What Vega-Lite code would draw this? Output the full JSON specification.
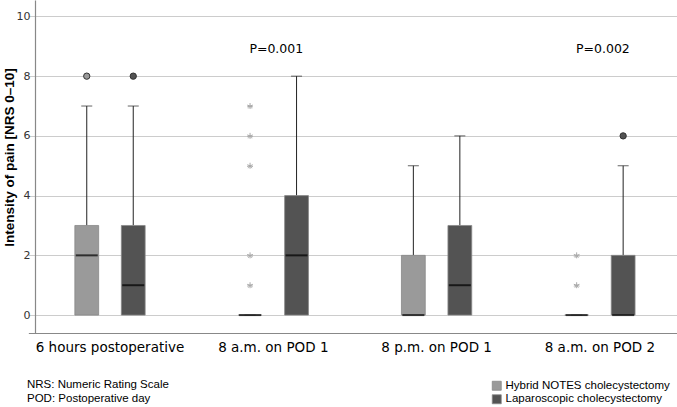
{
  "$schema": "https://vega.github.io/schema/vega-lite/v6.json",
  "width": 642,
  "height": 333,
  "autosize": {"type": "none"},
  "padding": {"left": 35, "top": 0, "right": 0, "bottom": 74},
  "config": {
    "view": {"stroke": null},
    "font": "DejaVu Sans"
  },
  "title": {
    "text": ["NRS: Numeric Rating Scale", "POD: Postoperative day"],
    "orient": "bottom",
    "anchor": "start",
    "frame": "group",
    "font": "Liberation Sans",
    "fontSize": 11.5,
    "fontWeight": "normal",
    "color": "#000000",
    "lineHeight": 14,
    "offset": -27,
    "dx": -8
  },
  "datasets": {
    "boxes": [
      {"group": "6 hours postoperative", "method": "Hybrid NOTES cholecystectomy", "q1": 0, "median": 2, "q3": 3, "upper": 7},
      {"group": "6 hours postoperative", "method": "Laparoscopic cholecystectomy", "q1": 0, "median": 1, "q3": 3, "upper": 7},
      {"group": "8 a.m. on POD 1", "method": "Hybrid NOTES cholecystectomy", "q1": 0, "median": 0, "q3": 0, "upper": 0},
      {"group": "8 a.m. on POD 1", "method": "Laparoscopic cholecystectomy", "q1": 0, "median": 2, "q3": 4, "upper": 8},
      {"group": "8 p.m. on  POD 1", "method": "Hybrid NOTES cholecystectomy", "q1": 0, "median": 0, "q3": 2, "upper": 5},
      {"group": "8 p.m. on  POD 1", "method": "Laparoscopic cholecystectomy", "q1": 0, "median": 1, "q3": 3, "upper": 6},
      {"group": "8 a.m. on POD 2", "method": "Hybrid NOTES cholecystectomy", "q1": 0, "median": 0, "q3": 0, "upper": 0},
      {"group": "8 a.m. on POD 2", "method": "Laparoscopic cholecystectomy", "q1": 0, "median": 0, "q3": 2, "upper": 5}
    ],
    "outliers": [
      {"group": "6 hours postoperative", "method": "Hybrid NOTES cholecystectomy", "value": 8},
      {"group": "6 hours postoperative", "method": "Laparoscopic cholecystectomy", "value": 8},
      {"group": "8 a.m. on POD 2", "method": "Laparoscopic cholecystectomy", "value": 6}
    ],
    "extremes": [
      {"group": "8 a.m. on POD 1", "method": "Hybrid NOTES cholecystectomy", "value": 1},
      {"group": "8 a.m. on POD 1", "method": "Hybrid NOTES cholecystectomy", "value": 2},
      {"group": "8 a.m. on POD 1", "method": "Hybrid NOTES cholecystectomy", "value": 5},
      {"group": "8 a.m. on POD 1", "method": "Hybrid NOTES cholecystectomy", "value": 6},
      {"group": "8 a.m. on POD 1", "method": "Hybrid NOTES cholecystectomy", "value": 7},
      {"group": "8 a.m. on POD 2", "method": "Hybrid NOTES cholecystectomy", "value": 1},
      {"group": "8 a.m. on POD 2", "method": "Hybrid NOTES cholecystectomy", "value": 2}
    ],
    "pvalues": [
      {"group": "8 a.m. on POD 1", "label": "P=0.001"},
      {"group": "8 a.m. on POD 2", "label": "P=0.002"}
    ]
  },
  "encoding": {
    "x": {
      "field": "group",
      "type": "nominal",
      "sort": ["6 hours postoperative", "8 a.m. on POD 1", "8 p.m. on  POD 1", "8 a.m. on POD 2"],
      "scale": {"range": [-6.65, 646.55], "paddingInner": 0, "paddingOuter": 0},
      "axis": {
        "title": null,
        "labelAngle": 0,
        "labelFont": "DejaVu Sans",
        "labelFontSize": 13.5,
        "labelColor": "#000000",
        "labelPadding": 7,
        "ticks": false,
        "domainColor": "#888888",
        "domainWidth": 1.2,
        "grid": false
      }
    }
  },
  "layer": [
    {
      "data": {"name": "boxes"},
      "mark": {"type": "rule", "color": "#222222", "strokeWidth": 1},
      "encoding": {
        "xOffset": {"field": "method", "type": "nominal", "scale": {"paddingInner": 0.488, "paddingOuter": 1.143}},
        "y": {
          "field": "q3",
          "type": "quantitative",
          "scale": {"domain": [-0.6, 10.55], "nice": false, "zero": false},
          "axis": {
            "values": [0, 2, 4, 6, 8, 10],
            "title": "Intensity of pain [NRS 0–10]",
            "titleFont": "Liberation Sans",
            "titleFontSize": 13.5,
            "titleFontWeight": "bold",
            "titleColor": "#000000",
            "titleAngle": -90,
            "titleX": -26,
            "titleY": 157,
            "titleAlign": "center",
            "titleBaseline": "middle",
            "labelFont": "DejaVu Sans",
            "labelFontSize": 11,
            "labelColor": "#333333",
            "labelPadding": 5,
            "ticks": false,
            "domainColor": "#888888",
            "domainWidth": 1.2,
            "grid": true,
            "gridColor": "#cccccc",
            "gridWidth": 1
          }
        },
        "y2": {"field": "upper"}
      }
    },
    {
      "data": {"name": "boxes"},
      "mark": {"type": "tick", "color": "#222222", "size": 11, "thickness": 1},
      "encoding": {
        "xOffset": {"field": "method", "type": "nominal"},
        "y": {"field": "upper", "type": "quantitative"}
      }
    },
    {
      "data": {"name": "boxes"},
      "mark": {"type": "bar", "stroke": "#888888", "strokeWidth": 0.8},
      "encoding": {
        "xOffset": {"field": "method", "type": "nominal"},
        "y": {"field": "q1", "type": "quantitative"},
        "y2": {"field": "q3"},
        "color": {
          "field": "method",
          "type": "nominal",
          "scale": {"domain": ["Hybrid NOTES cholecystectomy", "Laparoscopic cholecystectomy"], "range": ["#9a9a9a", "#535353"]},
          "legend": {
            "title": null,
            "orient": "none",
            "legendX": 456,
            "legendY": 380,
            "padding": 0,
            "symbolType": "square",
            "symbolSize": 81,
            "symbolStrokeColor": "#888888",
            "symbolStrokeWidth": 0.8,
            "labelFont": "Liberation Sans",
            "labelFontSize": 11.5,
            "labelColor": "#000000",
            "labelOffset": 3,
            "labelLimit": 300,
            "rowPadding": 0.5
          }
        }
      }
    },
    {
      "data": {"name": "boxes"},
      "mark": {"type": "tick", "color": "#000000", "size": 22, "thickness": 2},
      "encoding": {
        "xOffset": {"field": "method", "type": "nominal"},
        "y": {"field": "median", "type": "quantitative"}
      }
    },
    {
      "data": {"name": "outliers"},
      "mark": {"type": "point", "filled": true, "shape": "circle", "size": 40, "stroke": "#333333", "strokeWidth": 1, "opacity": 1},
      "encoding": {
        "xOffset": {"field": "method", "type": "nominal"},
        "y": {"field": "value", "type": "quantitative"},
        "fill": {
          "field": "method",
          "type": "nominal",
          "scale": {"domain": ["Hybrid NOTES cholecystectomy", "Laparoscopic cholecystectomy"], "range": ["#9a9a9a", "#535353"]},
          "legend": null
        }
      }
    },
    {
      "data": {"name": "extremes"},
      "mark": {"type": "point", "filled": false, "shape": "M0,-1L0,1M-0.95,-0.31L0.95,0.31M-0.95,0.31L0.95,-0.31M0,0L0.59,0.81M0,0L-0.59,0.81", "size": 36, "stroke": "#aaaaaa", "strokeWidth": 1, "opacity": 1},
      "encoding": {
        "xOffset": {"field": "method", "type": "nominal"},
        "y": {"field": "value", "type": "quantitative"}
      }
    },
    {
      "data": {"name": "pvalues"},
      "mark": {"type": "text", "font": "DejaVu Sans", "fontSize": 12.5, "color": "#000000", "baseline": "middle", "align": "center", "dx": 3},
      "encoding": {
        "y": {"datum": 8.9},
        "text": {"field": "label"}
      }
    }
  ]
}
